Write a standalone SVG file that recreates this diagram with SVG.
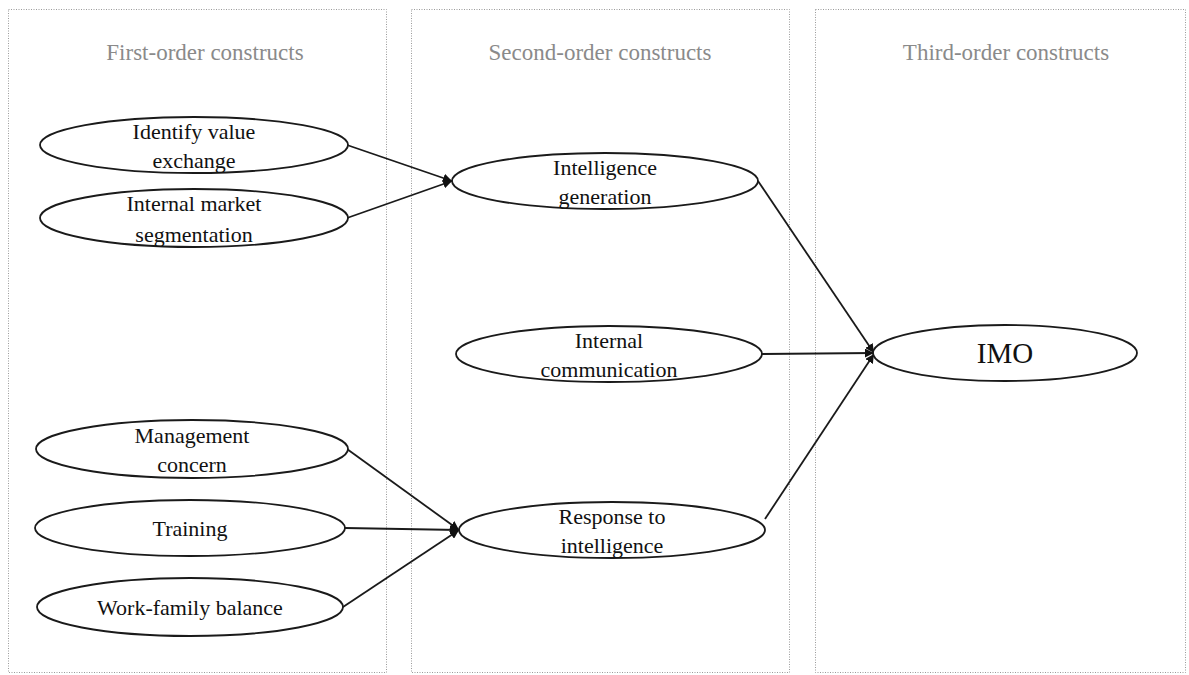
<svg xmlns="http://www.w3.org/2000/svg" width="1189" height="675" viewBox="0 0 1189 675">
  <style>
    .panel { fill: none; stroke: #9a9a9a; stroke-width: 1; stroke-dasharray: 1 1.5; }
    .head { font-family: "Liberation Serif", serif; font-size: 23px; fill: #8a8a8a; text-anchor: middle; }
    .node ellipse { fill: #ffffff; stroke: #1a1a1a; stroke-width: 1.8; }
    .node text { font-family: "Liberation Serif", serif; font-size: 22px; fill: #111111; text-anchor: middle; }
    .link { stroke: #1a1a1a; stroke-width: 1.8; fill: none; marker-end: url(#arrow); }
  </style>
  <defs>
    <marker id="arrow" viewBox="0 0 10 10" refX="10" refY="5" markerWidth="9" markerHeight="9" orient="auto" markerUnits="userSpaceOnUse">
      <path d="M0,0 L10,5 L0,10 z" fill="#111111"/>
    </marker>
  </defs>
  <rect width="1189" height="675" fill="#ffffff"/>

  <!-- column frames -->
  <g id="panels">
    <rect class="panel" x="8.5" y="9.5" width="378" height="663"/>
    <rect class="panel" x="411.5" y="9.5" width="378" height="663"/>
    <rect class="panel" x="815.5" y="9.5" width="370" height="663"/>
    <text class="head" x="205" y="60">First-order constructs</text>
    <text class="head" x="600" y="60">Second-order constructs</text>
    <text class="head" x="1006" y="60">Third-order constructs</text>
  </g>

  <!-- connectors -->
  <g id="connectors">
    <line class="link" x1="347" y1="145" x2="452" y2="181"/>
    <line class="link" x1="347" y1="218" x2="452" y2="181"/>
    <line class="link" x1="758" y1="181" x2="874" y2="353"/>
    <line class="link" x1="762" y1="354" x2="874" y2="353"/>
    <line class="link" x1="765" y1="519" x2="874" y2="354"/>
    <line class="link" x1="347" y1="449" x2="459" y2="530"/>
    <line class="link" x1="345" y1="528" x2="459" y2="530"/>
    <line class="link" x1="343" y1="607" x2="459" y2="530"/>
  </g>

  <g id="identify-value-exchange" class="node">
    <ellipse cx="194" cy="145" rx="154" ry="28"/>
    <text x="194" y="139">Identify value</text>
    <text x="194" y="168">exchange</text>
  </g>
  <g id="internal-market-segmentation" class="node">
    <ellipse cx="194" cy="218" rx="154" ry="29"/>
    <text x="194" y="211">Internal market</text>
    <text x="194" y="242">segmentation</text>
  </g>
  <g id="management-concern" class="node">
    <ellipse cx="192" cy="449" rx="156" ry="29"/>
    <text x="192" y="443">Management</text>
    <text x="192" y="472">concern</text>
  </g>
  <g id="training" class="node">
    <ellipse cx="190" cy="528" rx="155" ry="28"/>
    <text x="190" y="536">Training</text>
  </g>
  <g id="work-family-balance" class="node">
    <ellipse cx="190" cy="607" rx="153" ry="29"/>
    <text x="190" y="615">Work-family balance</text>
  </g>
  <g id="intelligence-generation" class="node">
    <ellipse cx="605" cy="181" rx="153" ry="28"/>
    <text x="605" y="175">Intelligence</text>
    <text x="605" y="204">generation</text>
  </g>
  <g id="internal-communication" class="node">
    <ellipse cx="609" cy="354" rx="153" ry="28"/>
    <text x="609" y="348">Internal</text>
    <text x="609" y="377">communication</text>
  </g>
  <g id="response-to-intelligence" class="node">
    <ellipse cx="612" cy="530" rx="153" ry="28"/>
    <text x="612" y="524">Response to</text>
    <text x="612" y="553">intelligence</text>
  </g>
  <g id="imo" class="node">
    <ellipse cx="1005" cy="353" rx="132" ry="28"/>
    <text x="1005" y="363" style="font-size:29px">IMO</text>
  </g>
</svg>
